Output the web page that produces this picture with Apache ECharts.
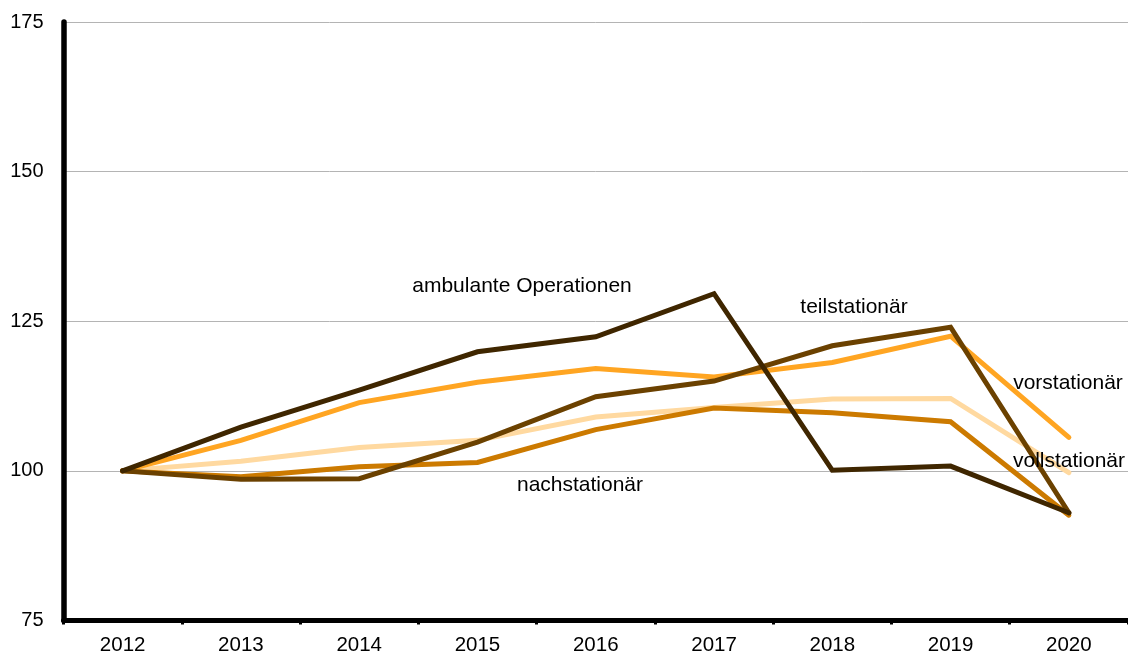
<!DOCTYPE html>
<html>
<head>
<meta charset="utf-8">
<script src="https://cdn.jsdelivr.net/npm/echarts@6/dist/echarts.min.js"></script>
<style>html,body{margin:0;padding:0;background:#fff;}#c{width:1128px;height:654px;}</style>
</head>
<body>
<div id="c"></div>
<script>
const years = ['2012','2013','2014','2015','2016','2017','2018','2019','2020'];
const vollstationaer = [100, 101.6, 103.9, 105.1, 109.0, 110.6, 112.0, 112.1, 99.7];
const vorstationaer = [100, 105.1, 111.4, 114.8, 117.1, 115.7, 118.1, 122.5, 105.6];
const nachstationaer = [100, 99.0, 100.7, 101.4, 106.9, 110.5, 109.7, 108.2, 92.6];
const teilstationaer = [100, 98.6, 98.7, 104.8, 112.4, 115.0, 120.9, 124.0, 93.0];
const ambulanteOperationen = [100, 107.3, 113.5, 119.9, 122.4, 129.6, 100.1, 100.8, 93.0];
const yTicks = [75, 100, 125, 150, 175];

const FONT = '"Liberation Sans", Arial, sans-serif';
function line(name, data, color, z) {
  return { name, type: 'line', data, symbol: 'none', z,
    lineStyle: { color, width: 5, join: 'miter', cap: 'round' }, itemStyle: { color } };
}
const labels = [
  { text: 'ambulante Operationen', x: 522, y: 286 },
  { text: 'teilstationär', x: 854, y: 307 },
  { text: 'vorstationär', x: 1068, y: 383 },
  { text: 'vollstationär', x: 1069, y: 461 },
  { text: 'nachstationär', x: 580, y: 485 }
];
const chart = echarts.init(document.getElementById('c'), null, { renderer: 'canvas' });
chart.setOption({
  animation: false,
  backgroundColor: '#fff',
  grid: { left: 63.5, right: 0, top: 22, bottom: 33.5, containLabel: false, outerBoundsMode: 'none' },
  xAxis: {
    type: 'category', data: years, boundaryGap: true,
    axisLine: { lineStyle: { color: '#000', width: 5 } },
    axisTick: { show: true, length: 4, lineStyle: { color: '#000', width: 3 } },
    axisLabel: { color: '#000', fontSize: 20.5, fontFamily: FONT, margin: 14 },
    splitLine: { show: false }
  },
  yAxis: {
    type: 'value', min: yTicks[0], max: yTicks[yTicks.length - 1], interval: 25,
    axisLine: { show: true, lineStyle: { color: '#000', width: 5.5 } },
    axisTick: { show: false },
    axisLabel: { color: '#000', fontSize: 20, fontFamily: FONT, margin: 20 },
    splitLine: { show: true, lineStyle: { color: '#b4b4b4', width: 1 } }
  },
  series: [
    line('vollstationär', vollstationaer, '#ffd9a0', 2),
    line('vorstationär', vorstationaer, '#ffa522', 3),
    line('nachstationär', nachstationaer, '#cc7a00', 4),
    line('teilstationär', teilstationaer, '#6b4100', 5),
    line('ambulante Operationen', ambulanteOperationen, '#3f2600', 6)
  ],
  graphic: labels.map(l => ({
    type: 'text', x: l.x, y: l.y, z: 10,
    style: { text: l.text, fill: '#000', fontSize: 21, fontFamily: FONT, align: 'center', verticalAlign: 'middle' }
  }))
});
</script>
</body>
</html>
